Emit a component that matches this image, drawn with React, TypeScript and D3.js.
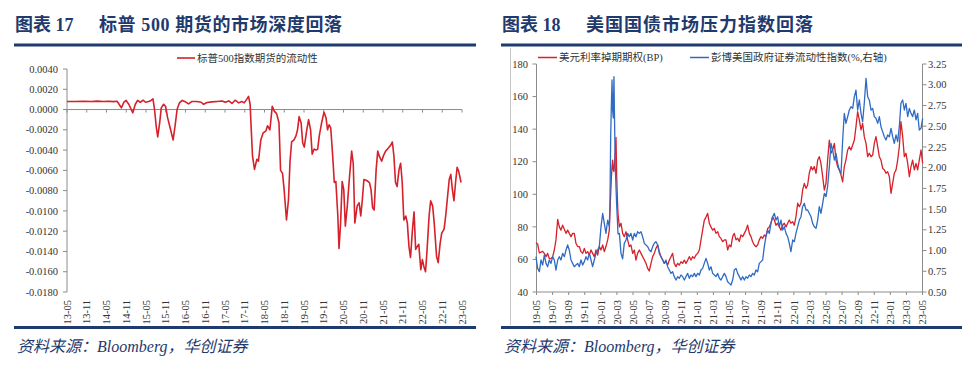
import React from 'react';
import * as d3 from 'd3';

const NAVY = '#1f3a6d';
const RED = '#d6202a';
const BLUE = '#2f6bc4';
const AXIS = '#8c8c8c';
const SERIF = '"Liberation Serif", "Times New Roman", "Noto Sans CJK SC", serif';

// ---- 图表17 标普500期货的流动性 ----
const spTicks = ['13-05', '13-11', '14-05', '14-11', '15-05', '15-11', '16-05', '16-11', '17-05', '17-11',
  '18-05', '18-11', '19-05', '19-11', '20-05', '20-11', '21-05', '21-11', '22-05', '22-11', '23-05'];
const spYTicks = [0.004, 0.002, 0, -0.002, -0.004, -0.006, -0.008, -0.01, -0.012, -0.014, -0.016, -0.018];
const spTime = [
  2013.333, 2013.55, 2013.75, 2013.95, 2014.1, 2014.25, 2014.4, 2014.5, 2014.6, 2014.64,
  2014.71, 2014.77, 2014.83, 2014.9, 2015.0, 2015.06, 2015.12, 2015.19, 2015.26, 2015.32,
  2015.4, 2015.46, 2015.51, 2015.55, 2015.59, 2015.63, 2015.68, 2015.72, 2015.78, 2015.83,
  2015.88, 2015.95, 2016.02, 2016.07, 2016.12, 2016.18, 2016.25, 2016.33, 2016.41, 2016.5,
  2016.62, 2016.73, 2016.79, 2016.88, 2017.0, 2017.13, 2017.26, 2017.34, 2017.43, 2017.51,
  2017.59, 2017.68, 2017.76, 2017.82, 2017.89, 2017.93, 2017.97, 2017.99, 2018.03, 2018.08,
  2018.14, 2018.18, 2018.24, 2018.3, 2018.37, 2018.41, 2018.47, 2018.53, 2018.58, 2018.64,
  2018.7, 2018.74, 2018.79, 2018.83, 2018.89, 2018.94, 2018.98, 2019.02, 2019.08, 2019.13,
  2019.17, 2019.21, 2019.26, 2019.3, 2019.34, 2019.4, 2019.45, 2019.5, 2019.54, 2019.59,
  2019.64, 2019.68, 2019.72, 2019.78, 2019.84, 2019.89, 2019.93, 2019.97, 2020.01, 2020.06,
  2020.1, 2020.14, 2020.19, 2020.22, 2020.26, 2020.3, 2020.34, 2020.38, 2020.43, 2020.48,
  2020.54, 2020.58, 2020.62, 2020.68, 2020.73, 2020.77, 2020.81, 2020.85, 2020.92, 2020.99,
  2021.03, 2021.07, 2021.11, 2021.16, 2021.2, 2021.24, 2021.3, 2021.34, 2021.4, 2021.47,
  2021.53, 2021.57, 2021.61, 2021.65, 2021.69, 2021.74, 2021.78, 2021.82, 2021.86, 2021.91,
  2021.95, 2021.99, 2022.03, 2022.08, 2022.12, 2022.16, 2022.2, 2022.24, 2022.29, 2022.33,
  2022.37, 2022.41, 2022.45, 2022.5, 2022.54, 2022.59, 2022.63, 2022.69, 2022.73, 2022.78,
  2022.82, 2022.88, 2022.92, 2022.96, 2023.01, 2023.05, 2023.09, 2023.13, 2023.17, 2023.21,
  2023.25, 2023.31,
];
const spLiquidity = [
  0.0008, 0.0008, 0.00081, 0.0008, 0.00083, 0.00079, 0.00082, 0.00078, 0.00082, 0.0006,
  0.00017, 0.0007, 0.0009, 0.0005, -0.00033, 0.0005, 0.0009, 0.00072, 0.00092, 0.00072,
  0.0008, 0.0009, 0.00105, 0, -0.0016, -0.0027, -0.0013, 0.00016, 0.00052, 0.0003,
  -0.0008, -0.0019, -0.003, -0.0016, 0, 0.00066, 0.0009, 0.00076, 0.00056, 0.0008,
  0.0008, 0.00072, 0.00052, 0.0007, 0.00076, 0.0008, 0.00085, 0.00072, 0.00085, 0.0006,
  0.00092, 0.00066, 0.0008, 0.00066, 0.00105, 0.0013, 0.0005, -0.0013, -0.0046, -0.0059,
  -0.0049, -0.0051, -0.003, -0.0023, -0.0021, -0.0016, -0.002, 0.00033, -0.00016, -0.0004,
  -0.0013, -0.006, -0.0063, -0.0079, -0.0109, -0.0089, -0.0051, -0.0032, -0.003, -0.0026,
  -0.002, -0.0007, -0.0013, -0.0033, -0.0037, -0.0021, -0.001, -0.002, -0.0044, -0.0039,
  -0.004, -0.0039, -0.0026, -0.0013, -0.00026, -0.0008, -0.002, -0.0015, -0.0018, -0.0046,
  -0.0072, -0.0071, -0.0105, -0.0137, -0.0112, -0.0071, -0.0079, -0.0115, -0.0095, -0.0069,
  -0.0041, -0.0053, -0.0112, -0.0095, -0.0092, -0.0105, -0.0089, -0.0069, -0.007, -0.0072,
  -0.0079, -0.0097, -0.0099, -0.0059, -0.0041, -0.0046, -0.0051, -0.0046, -0.0041, -0.0038,
  -0.0035, -0.0032, -0.0046, -0.0072, -0.0076, -0.0059, -0.0053, -0.0072, -0.0109, -0.0105,
  -0.0112, -0.0135, -0.0146, -0.0118, -0.0101, -0.0138, -0.0135, -0.0133, -0.0158, -0.0148,
  -0.0155, -0.016, -0.0138, -0.0105, -0.009, -0.0095, -0.0112, -0.0145, -0.0151, -0.0132,
  -0.0122, -0.0118, -0.0105, -0.0089, -0.0069, -0.0064, -0.0079, -0.009, -0.0072, -0.0057,
  -0.0061, -0.0072,
];

// ---- 图表18 美国国债市场压力 ----
const bondTicks = ['19-05', '19-07', '19-09', '19-11', '20-01', '20-03', '20-05', '20-07', '20-09', '20-11',
  '21-01', '21-03', '21-05', '21-07', '21-09', '21-11', '22-01', '22-03', '22-05', '22-07', '22-09', '22-11',
  '23-01', '23-03', '23-05'];
const swaptionTicks = [40, 60, 80, 100, 120, 140, 160, 180];
const liquidityTicks = [0.5, 0.75, 1, 1.25, 1.5, 1.75, 2, 2.25, 2.5, 2.75, 3, 3.25];
const bondTime = [
  2019.328, 2019.345, 2019.363, 2019.38, 2019.397, 2019.414, 2019.432, 2019.449, 2019.466, 2019.483,
  2019.501, 2019.518, 2019.535, 2019.553, 2019.57, 2019.587, 2019.604, 2019.622, 2019.639, 2019.656,
  2019.673, 2019.691, 2019.708, 2019.725, 2019.742, 2019.76, 2019.777, 2019.794, 2019.812, 2019.829,
  2019.846, 2019.863, 2019.881, 2019.898, 2019.915, 2019.932, 2019.95, 2019.967, 2019.984, 2020.002,
  2020.019, 2020.036, 2020.053, 2020.071, 2020.088,
  2020.095, 2020.102, 2020.109, 2020.116, 2020.122, 2020.129, 2020.136, 2020.143, 2020.15, 2020.157,
  2020.164, 2020.171, 2020.178,
  2020.192, 2020.209, 2020.226, 2020.243, 2020.261, 2020.278, 2020.295, 2020.312, 2020.33, 2020.347,
  2020.364, 2020.381, 2020.399, 2020.416, 2020.433, 2020.451, 2020.468, 2020.485, 2020.502, 2020.52,
  2020.537, 2020.554, 2020.571, 2020.589, 2020.606, 2020.623, 2020.641, 2020.658, 2020.675, 2020.692,
  2020.71, 2020.727, 2020.744, 2020.761, 2020.779, 2020.796, 2020.813, 2020.831, 2020.848, 2020.865,
  2020.882, 2020.9, 2020.917, 2020.934, 2020.951, 2020.969, 2020.986, 2021.003, 2021.021, 2021.038,
  2021.055, 2021.072, 2021.09, 2021.107, 2021.124, 2021.141, 2021.159, 2021.176, 2021.193, 2021.211,
  2021.228, 2021.245, 2021.262, 2021.28, 2021.297, 2021.314, 2021.331, 2021.349, 2021.366, 2021.383,
  2021.401, 2021.418, 2021.435, 2021.452, 2021.47, 2021.487, 2021.504, 2021.521, 2021.539, 2021.556,
  2021.573, 2021.59, 2021.608, 2021.625, 2021.642, 2021.66, 2021.677, 2021.694, 2021.711, 2021.729,
  2021.746, 2021.763, 2021.78, 2021.798, 2021.815, 2021.832, 2021.85, 2021.867, 2021.884, 2021.901,
  2021.919, 2021.936, 2021.953, 2021.97, 2021.988, 2022.005, 2022.022, 2022.04, 2022.057, 2022.074,
  2022.091, 2022.109, 2022.126, 2022.143, 2022.16, 2022.178, 2022.195, 2022.212, 2022.23, 2022.247,
  2022.264, 2022.281, 2022.299, 2022.316, 2022.333, 2022.35, 2022.368, 2022.385, 2022.402, 2022.42,
  2022.437, 2022.454, 2022.471, 2022.489, 2022.506, 2022.523, 2022.54, 2022.558, 2022.575, 2022.592,
  2022.61, 2022.627, 2022.644, 2022.661, 2022.679, 2022.696, 2022.713, 2022.73, 2022.748, 2022.765,
  2022.782, 2022.8, 2022.817, 2022.834, 2022.851, 2022.869, 2022.886, 2022.903, 2022.92, 2022.938,
  2022.955, 2022.972, 2022.99, 2023.007, 2023.024, 2023.041, 2023.059, 2023.076, 2023.093, 2023.11,
  2023.128, 2023.145, 2023.162, 2023.18, 2023.197, 2023.214, 2023.231, 2023.249, 2023.266, 2023.283,
  2023.3, 2023.318, 2023.335,
];
// 美元利率掉期期权(BP), left axis
const usdSwaption = [
  70.3, 69.5, 64, 64.5, 65, 63.7, 61.7, 63.7, 60.5, 60.5,
  61.7, 65.8, 72, 84.6, 80, 78, 81, 78.5, 76, 78,
  76, 74, 76, 76, 69.9, 67.9, 67.9, 64.8, 63.7, 66.8,
  63.7, 64.8, 62.7, 65.8, 63.7, 61.7, 65.8, 62.7, 67.9, 65.8,
  68.9, 64.8, 67.9, 72, 78,
  90, 100, 110, 117, 121, 115, 114, 120, 128, 135,
  112, 98, 88,
  80, 82.2, 76, 74, 77, 72, 67.9, 68.9, 63.7, 65.8,
  59.6, 63.7, 65.8, 63.7, 61.7, 59.6, 57.6, 54.5, 52.9, 57.6,
  61.7, 63.7, 66.8, 68.9, 64.8, 61.7, 59.6, 57.6, 58.6, 56.6,
  59.6, 61.7, 63.7, 57.6, 55.6, 57.6, 56.6, 58.6, 57.6, 59.6,
  57.6, 59.6, 61.7, 59.6, 61.7, 60.7, 62.7, 63.7, 65.8, 72,
  78, 84, 86, 88.3, 82.2, 80, 78, 79, 76, 77,
  74, 72.9, 70.9, 72, 72, 65.8, 68.9, 67.8, 74, 76,
  72, 73, 71, 75, 74, 76, 78, 81, 76, 74,
  70.9, 68.9, 67.8, 68.9, 72, 74, 73, 75, 74, 79,
  80, 82.2, 86.2, 84.2, 81, 82.2, 80, 78, 81, 82.2,
  80, 82.2, 84.2, 82.2, 83.2, 81, 86.2, 94.5, 92.4, 94.5,
  102.6, 106.7, 103.6, 105.7, 112.9, 117, 115, 117, 112.9, 121,
  123.1, 119, 110.8, 102.6, 106.7, 121, 133.3, 125.2, 127.2, 131.3,
  121, 117, 115, 111.8, 107.7, 117, 121, 127.2, 129.2, 127.2,
  130.3, 133.3, 141.5, 150.7, 145.6, 139.5, 143.5, 135.4, 131.3, 123.1,
  125.2, 123.1, 124.1, 131.3, 135.4, 129.2, 123.1, 121, 116, 115,
  112.9, 113.9, 110.8, 100.6, 106.7, 112.9, 115, 121, 129.2, 144.6,
  135.4, 123.1, 125.2, 119, 110.8, 117, 121, 115, 119, 115,
  121, 127.2, 119,
];
// 彭博美国政府证券流动性指数(%), right axis
const bbgLiquidity = [
  0.926, 0.785, 0.745, 0.886, 0.825, 0.946, 0.845, 0.805, 0.886, 0.845,
  0.926, 0.886, 0.765, 0.886, 0.926, 0.886, 0.966, 0.926, 1.006, 1.067,
  1.006, 0.886, 0.845, 0.805, 0.825, 0.845, 0.805, 0.886, 0.825, 0.866,
  0.926, 0.886, 0.966, 0.886, 0.805, 0.886, 0.966, 1.006, 1.047, 1.288,
  1.449, 1.328, 1.207, 1.368, 1.288,
  1.6, 2.373, 2.75, 3.057, 2.7, 2.6, 3.097, 2.5, 2.0, 1.77,
  1.55, 1.38, 1.2,
  1.207, 0.966, 0.9, 1.087, 1.127, 1.207, 1.167, 1.207, 1.127, 1.207,
  1.167, 1.227, 1.207, 1.227, 1.167, 1.087, 1.067, 1.047, 1.006, 0.986,
  1.047, 1.087, 1.107, 1.067, 0.966, 0.926, 0.886, 0.845, 0.886, 0.805,
  0.765, 0.725, 0.745, 0.685, 0.644, 0.685, 0.665, 0.705, 0.685, 0.644,
  0.685, 0.725, 0.665, 0.705, 0.685, 0.725, 0.685, 0.725, 0.705, 0.765,
  0.785, 0.845, 0.906, 0.845, 0.765, 0.805, 0.725, 0.705, 0.685, 0.725,
  0.665, 0.644, 0.685, 0.725, 0.685, 0.624, 0.604, 0.584, 0.644, 0.765,
  0.785, 0.725, 0.685, 0.644, 0.685, 0.644, 0.685, 0.665, 0.705, 0.685,
  0.725, 0.705, 0.765, 0.745, 0.845, 0.866, 0.886, 1.047, 1.167, 1.248,
  1.207, 1.328, 1.408, 1.449, 1.368, 1.408, 1.288, 1.368, 1.248, 1.288,
  1.207, 1.167, 1.087, 0.986, 1.127, 1.107, 1.207, 1.288, 1.368, 1.408,
  1.529, 1.569, 1.489, 1.489, 1.449, 1.408, 1.328, 1.288, 1.268, 1.368,
  1.529, 1.449, 1.569, 1.69, 1.65, 1.77, 2.012, 2.293, 2.213, 2.092,
  2.172, 2.052, 1.971, 1.931, 2.333, 2.655, 2.534, 2.615, 2.695, 2.735,
  2.715, 2.856, 2.936, 2.695, 2.816, 2.655, 2.554, 2.776, 3.077, 2.856,
  2.816, 2.695, 2.715, 2.615, 2.595, 2.534, 2.615, 2.494, 2.434, 2.373,
  2.333, 2.394, 2.373, 2.474, 2.373, 2.293, 2.394, 2.313, 2.494, 2.776,
  2.816, 2.695, 2.776, 2.615, 2.715, 2.655, 2.615, 2.695, 2.575, 2.655,
  2.454, 2.474, 2.595,
];

// "13-05" -> 2013.333
const labelToYear = (s: string) => 2000 + +s.slice(0, 2) + (+s.slice(3) - 1) / 12;

function Header({ x0, x1, tag, title, spacing }: { x0: number; x1: number; tag: string; title: string; spacing: number }) {
  return (
    <g fontFamily={SERIF} fontWeight={700} fontSize={18} fill={NAVY}>
      <text x={x0 + 1} y={31}>{tag}</text>
      <text x={x0 + 85} y={31} letterSpacing={spacing}>{title}</text>
      <rect x={x0} y={43.5} width={x1 - x0} height={3} fill={NAVY} />
    </g>
  );
}

function Footer({ x0, x1 }: { x0: number; x1: number }) {
  return (
    <g>
      <rect x={x0} y={326} width={x1 - x0} height={3} fill={NAVY} />
      <text x={x0 + 3} y={352} fontFamily={SERIF} fontStyle="italic" fontSize={16} fill={NAVY}>
        资料来源：Bloomberg，华创证券
      </text>
    </g>
  );
}

function XLabels({ ticks, x, y }: { ticks: string[]; x: (v: number) => number; y: number }) {
  return (
    <g fontFamily={SERIF} fontSize={10.5} fill="#333">
      {ticks.map(t => (
        <text key={t} transform={`translate(${x(labelToYear(t))},${y}) rotate(-90)`} textAnchor="end" dy="0.35em">
          {t}
        </text>
      ))}
    </g>
  );
}

function SpChart() {
  const x = d3.scaleLinear().domain([labelToYear('13-05'), labelToYear('23-05')]).range([67, 462]);
  const y = d3.scaleLinear().domain([-0.018, 0.004]).range([292, 69]);
  const line = d3.line<number>().x((_, i) => x(spTime[i])).y(d => y(d));
  return (
    <g>
      {/* legend */}
      <line x1={177} x2={195} y1={58} y2={58} stroke={RED} strokeWidth={1.6} />
      <text x={197} y={61.5} fontFamily={SERIF} fontSize={10.5} fill="#333">标普500指数期货的流动性</text>
      {/* y axis */}
      <line x1={67} x2={67} y1={y(0.004)} y2={y(-0.018)} stroke={AXIS} />
      {spYTicks.map(t => (
        <g key={t}>
          <line x1={63} x2={67} y1={y(t)} y2={y(t)} stroke={AXIS} />
          <text x={58} y={y(t)} dy="0.35em" textAnchor="end" fontFamily={SERIF} fontSize={10.5} fill="#333">
            {t.toFixed(4)}
          </text>
        </g>
      ))}
      {/* x axis at zero */}
      <line x1={67} x2={462} y1={y(0)} y2={y(0)} stroke={AXIS} />
      {spTicks.map(t => (
        <line key={t} x1={x(labelToYear(t))} x2={x(labelToYear(t))} y1={y(0)} y2={y(0) + 3} stroke={AXIS} />
      ))}
      <XLabels ticks={spTicks} x={x} y={300} />
      <path d={line(spLiquidity) || ''} fill="none" stroke={RED} strokeWidth={1.6} strokeLinejoin="round" />
    </g>
  );
}

function BondChart() {
  const x = d3.scaleLinear().domain([labelToYear('19-05'), labelToYear('23-05')]).range([536.5, 922.5]);
  const yL = d3.scaleLinear().domain([40, 180]).range([292, 64]);
  const yR = d3.scaleLinear().domain([0.5, 3.25]).range([292, 64]);
  const redLine = d3.line<number>().x((_, i) => x(bondTime[i])).y(d => yL(d));
  const blueLine = d3.line<number>().x((_, i) => x(bondTime[i])).y(d => yR(d));
  return (
    <g>
      <line x1={510.5} x2={510.5} y1={48} y2={325} stroke="#c8c8c8" />
      {/* legend */}
      <line x1={538} x2={557} y1={57.5} y2={57.5} stroke={RED} strokeWidth={1.5} />
      <text x={559} y={61} fontFamily={SERIF} fontSize={10.5} fill="#333">美元利率掉期期权(BP)</text>
      <line x1={690} x2={709} y1={57.5} y2={57.5} stroke={BLUE} strokeWidth={1.5} />
      <text x={711} y={61} fontFamily={SERIF} fontSize={10.5} fill="#333">彭博美国政府证券流动性指数(%,右轴)</text>
      {/* left axis */}
      <line x1={536.5} x2={536.5} y1={64} y2={292} stroke={AXIS} />
      {swaptionTicks.map(t => (
        <g key={t}>
          <line x1={532.5} x2={536.5} y1={yL(t)} y2={yL(t)} stroke={AXIS} />
          <text x={528} y={yL(t)} dy="0.35em" textAnchor="end" fontFamily={SERIF} fontSize={10.5} fill="#333">{t}</text>
        </g>
      ))}
      {/* right axis */}
      <line x1={922.5} x2={922.5} y1={64} y2={292} stroke={AXIS} />
      {liquidityTicks.map(t => (
        <g key={t}>
          <line x1={922.5} x2={926.5} y1={yR(t)} y2={yR(t)} stroke={AXIS} />
          <text x={928} y={yR(t)} dy="0.35em" fontFamily={SERIF} fontSize={10.5} fill="#333">{t.toFixed(2)}</text>
        </g>
      ))}
      {/* bottom axis */}
      <line x1={536.5} x2={922.5} y1={292} y2={292} stroke={AXIS} />
      {bondTicks.map(t => (
        <line key={t} x1={x(labelToYear(t))} x2={x(labelToYear(t))} y1={292} y2={295} stroke={AXIS} />
      ))}
      <XLabels ticks={bondTicks} x={x} y={300} />
      <path d={redLine(usdSwaption) || ''} fill="none" stroke={RED} strokeWidth={1.3} strokeLinejoin="round" />
      <path d={blueLine(bbgLiquidity) || ''} fill="none" stroke={BLUE} strokeWidth={1.3} strokeLinejoin="round" />
    </g>
  );
}

export default function App() {
  return (
    <svg width={980} height={370} style={{ position: 'absolute', left: 0, top: 0, background: '#fff' }}>
      <Header x0={14} x1={476} tag="图表 17" title="标普 500 期货的市场深度回落" spacing={0.6} />
      <SpChart />
      <Footer x0={14} x1={476} />
      <Header x0={501} x1={962} tag="图表 18" title="美国国债市场压力指数回落" spacing={1} />
      <BondChart />
      <Footer x0={501} x1={962} />
    </svg>
  );
}
